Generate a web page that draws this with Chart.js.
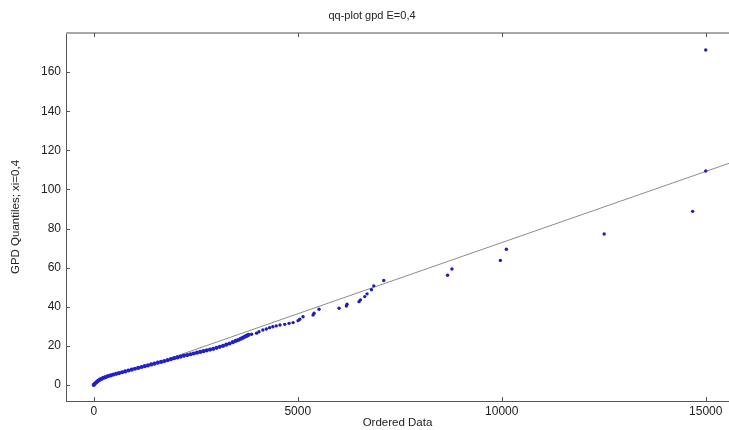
<!DOCTYPE html>
<html>
<head>
<meta charset="utf-8">
<script src="https://cdn.jsdelivr.net/npm/chart.js@4/dist/chart.umd.min.js"></script>
<style>
html, body { margin: 0; padding: 0; background: #fff; overflow: hidden; }
</style>
</head>
<body>
<canvas id="myChart" width="729" height="430"></canvas>
<script>
// dense part of the qq curve (ordered data, gpd quantile)
const curveX = [0, 30, 65, 100, 140, 185, 235, 290, 350, 415, 480, 550, 620, 695, 770, 850, 930, 1010, 1090, 1170,
    1250, 1330, 1410, 1490, 1570, 1650, 1730, 1810, 1890, 1970, 2050, 2130, 2210, 2290, 2370, 2450, 2530, 2610, 2690, 2770,
    2850, 2930, 3010, 3090, 3170, 3250, 3330, 3410, 3480, 3540, 3600, 3650, 3700, 3745, 3790];
const curveY = [0, 0.7, 1.4, 2.0, 2.6, 3.1, 3.6, 4.0, 4.5, 4.9, 5.3, 5.7, 6.1, 6.5, 6.9, 7.4, 7.8, 8.3, 8.7, 9.2,
    9.6, 10.0, 10.5, 10.9, 11.4, 11.8, 12.2, 12.7, 13.2, 13.7, 14.1, 14.5, 15.0, 15.3, 15.7, 16.1, 16.5, 16.9, 17.3, 17.7,
    18.1, 18.5, 19.0, 19.5, 20.0, 20.6, 21.2, 21.9, 22.5, 23.0, 23.6, 24.1, 24.6, 25.1, 25.6];

// sparse tail
const tailX = [3870, 3990, 4050, 4145, 4230, 4310, 4390, 4473, 4565, 4681, 4788, 4886, 5008, 5049, 5130, 5375, 5400, 5522,
    6013, 6193, 6208, 6502, 6537, 6642, 6699, 6807, 6863, 7108, 8672, 8779, 9966, 10113, 12510, 14680, 15000, 15000];
const tailY = [25.9, 26.5, 27.2, 28.1, 28.6, 29.3, 29.8, 30.2, 30.7, 31.0, 31.5, 31.9, 32.9, 33.6, 34.9, 35.8, 36.7, 38.7,
    39.2, 40.4, 41.3, 42.6, 43.5, 45.2, 46.6, 48.7, 50.7, 53.4, 56.1, 59.3, 63.7, 69.4, 77.2, 88.8, 109.4, 171.3];

// reference line (hidden under the dense curve below ~1900)
const fitSlope = 0.00728;
const fitX = [1900, 15570];

const xTicks = [0, 5000, 10000, 15000];
const yTicks = [0, 20, 40, 60, 80, 100, 120, 140, 160];

const titleText = 'qq-plot gpd E=0,4';
const xLabel = 'Ordered Data';
const yLabel = 'GPD Quantiles; xi=0,4';

var dense = curveX.map(function (v, i) { return {x: v, y: curveY[i]}; });
var tail = tailX.map(function (v, i) { return {x: v, y: tailY[i]}; });
var fit = fitX.map(function (v) { return {x: v, y: v * fitSlope}; });

var fontFam = '"Liberation Sans", Arial, sans-serif';

// matlab style box: top border, inward ticks, title
var frame = {
    id: 'frame',
    afterDraw: function (c) {
        var ctx = c.ctx, a = c.chartArea, sx = c.scales.x, sy = c.scales.y;
        ctx.save();
        ctx.strokeStyle = '#a8a8a8';
        ctx.lineWidth = 2;
        ctx.beginPath();
        ctx.moveTo(a.left, a.top);
        ctx.lineTo(a.right, a.top);
        ctx.stroke();
        ctx.strokeStyle = '#555';
        ctx.lineWidth = 1;
        ctx.beginPath();
        xTicks.forEach(function (v) {
            var px = Math.round(sx.getPixelForValue(v)) + 0.5;
            ctx.moveTo(px, a.bottom); ctx.lineTo(px, a.bottom - 4);
            ctx.moveTo(px, a.top); ctx.lineTo(px, a.top + 4);
        });
        yTicks.forEach(function (v) {
            var py = Math.round(sy.getPixelForValue(v)) + 0.5;
            ctx.moveTo(a.left, py); ctx.lineTo(a.left + 4, py);
        });
        ctx.stroke();
        ctx.fillStyle = '#222';
        ctx.font = '11px ' + fontFam;
        ctx.textAlign = 'center';
        ctx.textBaseline = 'middle';
        ctx.fillText(titleText, 372, 16);
        ctx.restore();
    }
};

var ctx = document.getElementById('myChart').getContext('2d');
var chart = new Chart(ctx, {
    type: 'scatter',
    data: {
        datasets: [{
            data: dense,
            pointRadius: 2.1,
            pointBorderWidth: 0,
            pointBackgroundColor: '#2020cc'
        },
        {
            data: tail,
            pointRadius: 1.7,
            pointBorderWidth: 0,
            pointBackgroundColor: '#1e1eb4'
        },
        {
            data: fit,
            showLine: true,
            borderColor: '#8c8c8c',
            borderWidth: 1,
            pointRadius: 0
        }]
    },
    options: {
        responsive: false,
        animation: false,
        layout: { autoPadding: false, padding: { top: 33, left: 0, right: 0, bottom: 0 } },
        plugins: { legend: { display: false }, tooltip: { enabled: false } },
        scales: {
            x: {
                type: 'linear',
                min: -680,
                max: 15570,
                afterBuildTicks: function (s) { s.ticks = xTicks.map(function (v) { return {value: v}; }); },
                afterFit: function (s) { s.height = 29; },
                grid: { drawOnChartArea: false, drawTicks: false },
                border: { display: true, color: '#555', width: 1 },
                ticks: {
                    padding: 3, color: '#222', maxRotation: 0,
                    font: { family: fontFam, size: 12 },
                    callback: function (v) { return String(v); }
                },
                title: { display: true, text: xLabel, color: '#222', font: { family: fontFam, size: 11.5 }, padding: { top: 0, bottom: 0 } }
            },
            y: {
                min: -8.2,
                max: 180,
                afterBuildTicks: function (s) { s.ticks = yTicks.map(function (v) { return {value: v}; }); },
                afterFit: function (s) { s.width = 66; },
                grid: { drawOnChartArea: false, drawTicks: false },
                border: { display: true, color: '#555', width: 1 },
                ticks: {
                    padding: 5, color: '#222',
                    font: { family: fontFam, size: 12 },
                    callback: function (v) { return String(v); }
                },
                title: { display: true, text: yLabel, color: '#222', font: { family: fontFam, size: 11.5 }, padding: { top: 9, bottom: 0 } }
            }
        }
    },
    plugins: [frame]
});
</script>
</body>
</html>
